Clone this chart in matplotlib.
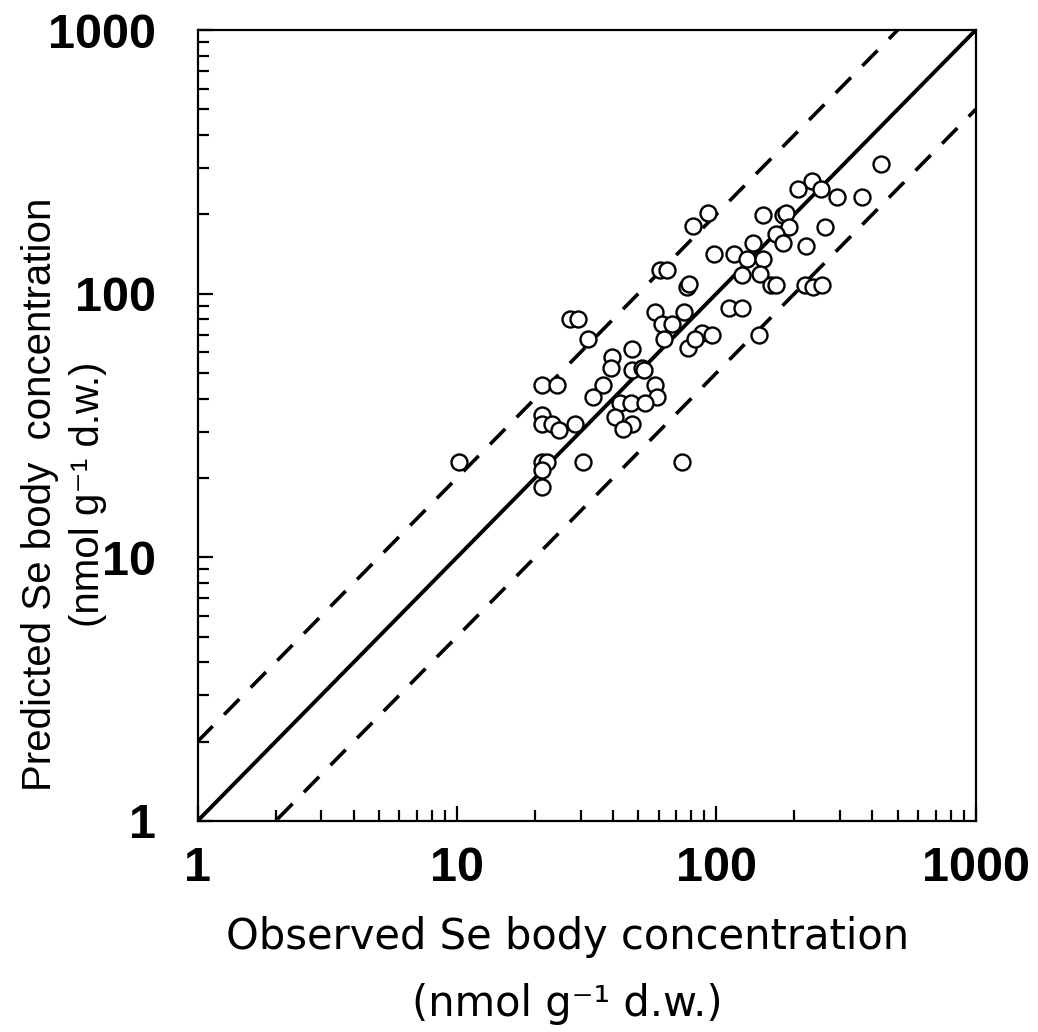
import matplotlib
matplotlib.use("Agg")
import matplotlib.pyplot as plt
from matplotlib.ticker import LogLocator, FixedLocator, FixedFormatter, NullFormatter
import numpy as np

plt.rcParams['font.family'] = ['Liberation Sans', 'DejaVu Sans']

# Observed vs predicted Se body concentration (nmol g-1 d.w.)
observed = [27.3, 29.2, 32.0, 47.2, 39.6, 39.2, 47.2, 51.8, 52.6, 58.0,
            61.6, 67.7, 75.2, 63.0, 77.6, 21.2, 24.4, 36.6, 33.4, 58.0,
            58.9, 42.5, 46.8, 53.1, 40.7, 47.5, 43.6, 21.2, 21.2, 23.2,
            24.8, 28.5, 10.2, 21.2, 22.3, 21.2, 30.5, 74.0, 21.2,
            431, 234, 207, 253, 291, 365, 93.1, 81.1, 152, 180,
            185, 190, 263, 170, 180, 222, 98.2, 117, 138, 131,
            151, 126, 148, 162, 170, 220, 235, 255, 60.7, 64.4,
            76.9, 78.7, 87.8, 96.0, 82.8, 112, 126, 146]
predicted = [79.9, 79.9, 67.3, 61.7, 57.3, 52.4, 51.2, 52.4, 51.2, 85.4,
             76.7, 76.7, 85.4, 67.3, 62.2, 44.9, 44.9, 45.1, 40.6, 45.1,
             40.6, 38.6, 38.6, 38.6, 34.2, 32.1, 30.6, 34.6, 32.0, 32.0,
             30.5, 32.0, 23.0, 23.0, 23.0, 21.4, 23.0, 23.0, 18.5,
             310, 268, 249, 249, 233, 233, 202, 180, 198, 198,
             203, 179, 179, 168, 155, 151, 142, 142, 155, 135,
             135, 118, 119, 108, 108, 108, 106, 108, 123, 123,
             106, 109, 71.1, 69.7, 67.1, 88.0, 88.0, 69.7]

# 1:1 line and factor-of-two bounds
line_x = np.array([1, 1000])
factor = 2

tick_vals = [1, 10, 100, 1000]
tick_text = ["1", "10", "100", "1000"]

fig = plt.figure(figsize=(10.38, 10.32), dpi=100)
ax = fig.add_axes([0.1903, 0.2045, 0.7497, 0.7664])

ax.plot(line_x, line_x, color="black", lw=2.8, solid_capstyle="butt")
ax.plot(line_x, line_x * factor, color="black", lw=2.6, dashes=(6, 4.5))
ax.plot(line_x, line_x / factor, color="black", lw=2.6, dashes=(6, 4.5))
ax.plot(observed, predicted, "o", ms=11.5, mfc="white", mec="black", mew=1.7,
        zorder=3)

ax.set_xscale("log")
ax.set_yscale("log")
ax.set_xlim(1, 1000)
ax.set_ylim(1, 1000)

for axis in (ax.xaxis, ax.yaxis):
    axis.set_major_locator(FixedLocator(tick_vals))
    axis.set_major_formatter(FixedFormatter(tick_text))
    axis.set_minor_locator(LogLocator(base=10, subs=np.arange(2, 10)))
    axis.set_minor_formatter(NullFormatter())

ax.tick_params(which="both", direction="in", top=False, right=False,
               width=1.6, color="black")
ax.tick_params(which="major", length=10.5, labelsize=35)
ax.tick_params(which="minor", length=8)
ax.tick_params(axis="x", which="major", pad=18)
ax.tick_params(axis="y", which="major", pad=30)

for lab in ax.get_xticklabels() + ax.get_yticklabels():
    lab.set_fontweight("bold")

for sp in ax.spines.values():
    sp.set_linewidth(1.6)

ax.set_xlabel("Observed Se body concentration\n(nmol g\u207b\u00b9 d.w.)",
              fontsize=30, linespacing=1.75,
              family=["DejaVu Sans Condensed", "Liberation Sans Narrow", "DejaVu Sans"])
ax.xaxis.set_label_coords(0.475, -0.12, transform=ax.transAxes)
ax.xaxis.label.set_va("top")

ax.set_ylabel("Predicted Se body  concentration\n(nmol g\u207b\u00b9 d.w.)",
              fontsize=29, linespacing=1.35,
              family=["Liberation Sans", "DejaVu Sans"])
ax.yaxis.set_label_coords(-0.116, 0.413, transform=ax.transAxes)

fig.savefig("out.png", dpi=100, facecolor="white")
